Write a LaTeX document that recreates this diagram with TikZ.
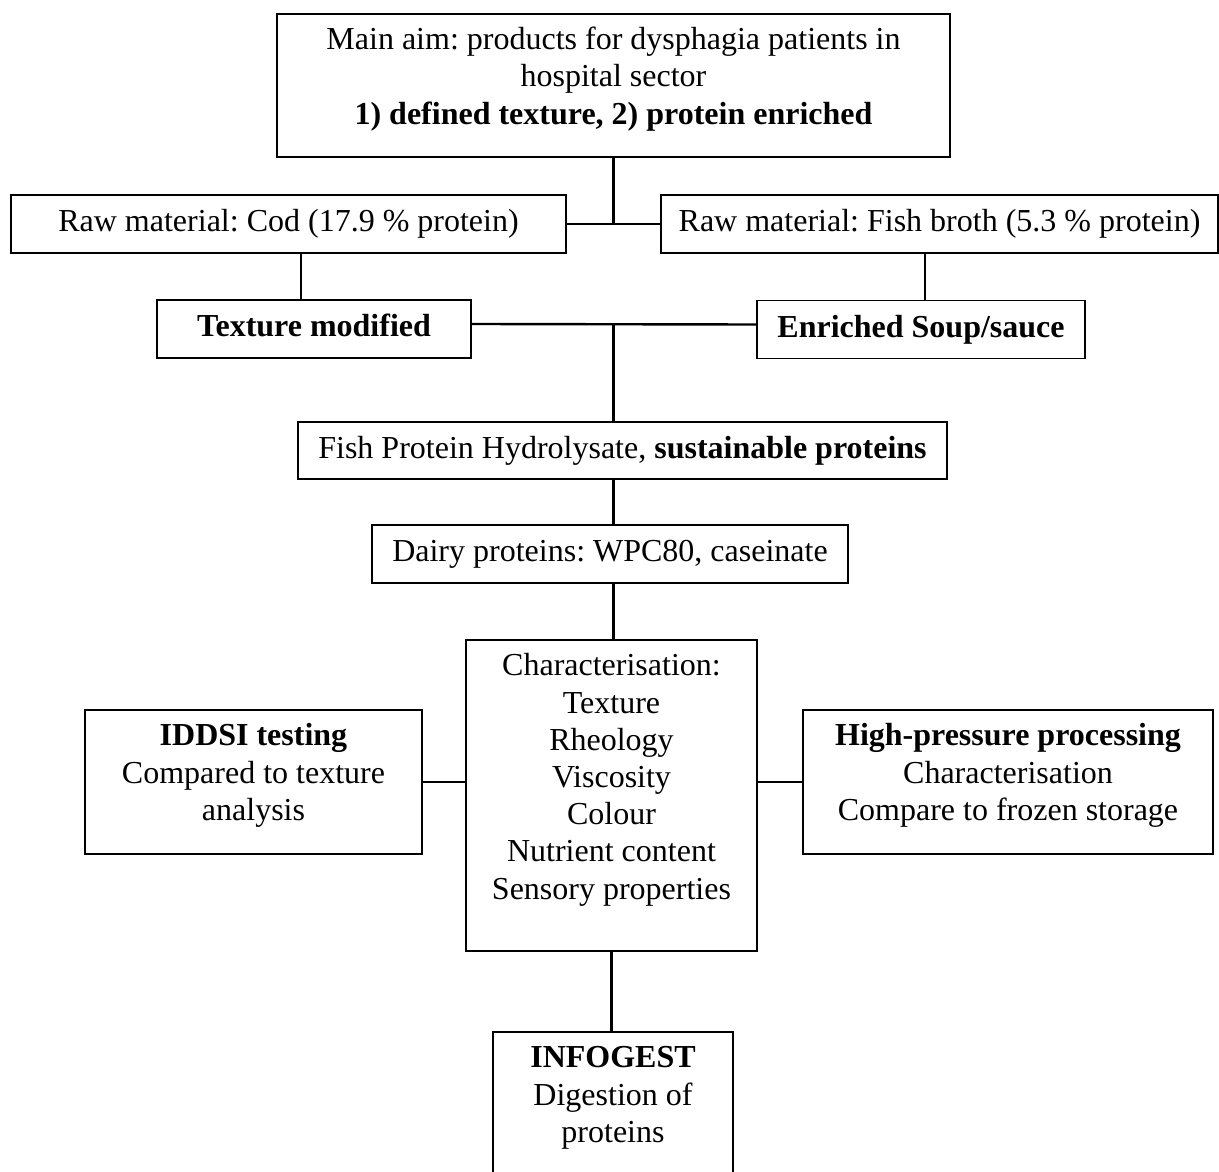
\documentclass[tikz,border=0pt]{standalone}
\usepackage{fontspec}
\setmainfont{Liberation Serif}
\frenchspacing

\begin{document}
\begin{tikzpicture}[
    x=0.5pt, y=-0.5pt,
    % Style for the plain boxes (one line, centred)
    box/.style={draw=black, line width=0.8pt, inner sep=0pt, minimum height=29pt,
                text height=11.2pt, text depth=3.6pt,
                font=\fontsize{16pt}{18.6pt}\selectfont},
    % Style for the taller boxes (text set from the top)
    tbox/.style={box, anchor=north, align=flush center, text height=18pt},
    % Style for the connecting lines
    link/.style={line width=1.2pt}
]

\useasboundingbox (0,0) rectangle (1219,1171);
\clip (0,0) rectangle (1219,1171);

% ==========================
% Aim and raw materials
% ==========================
\node[tbox, text width=336.5pt, text depth=53.5pt] (aim) at (613.5,13)
    {Main aim: products for dysphagia patients in\\ hospital sector\\
     \textbf{1) defined texture, 2) protein enriched}};

\node[box, minimum width=277.5pt] (cod) at (288.5,224) {Raw material: Cod (17.9 \% protein)};
\node[box, minimum width=278.5pt] (broth) at (939.5,224) {Raw material: Fish broth (5.3 \% protein)};

% ==========================
% Products
% ==========================
\node[box, minimum width=157pt] (texture) at (314,329) {\textbf{Texture modified}};
\node[box, minimum width=164pt] (enriched) at (921,329.5) {\textbf{Enriched Soup/sauce}};

% ==========================
% Proteins
% ==========================
\node[box, minimum width=324.5pt, minimum height=28.5pt] (fph) at (622.5,450.5)
    {Fish Protein Hydrolysate, \textbf{sustainable proteins}};
\node[box, minimum width=238pt] (dairy) at (610,554) {Dairy proteins: WPC80, caseinate};

% ==========================
% Analyses
% ==========================
\node[tbox, text width=145.5pt, text depth=137.5pt] (char) at (611.5,639)
    {Characterisation:\\ Texture\\ Rheology\\ Viscosity\\ Colour\\ Nutrient content\\ Sensory properties};
\node[tbox, text width=168.5pt, text depth=54pt] (iddsi) at (253.5,709)
    {\textbf{IDDSI testing}\\ Compared to texture\\ analysis};
\node[tbox, text width=205pt, text depth=54pt] (hpp) at (1008,709)
    {\textbf{High-pressure processing}\\ Characterisation\\ Compare to frozen storage};
\node[tbox, text width=120pt, text depth=72pt] (infogest) at (613,1031)
    {\textbf{INFOGEST}\\ Digestion of\\ proteins};

% ==========================
% Connectors
% ==========================
\draw[link] (aim.south) -- (aim.south |- cod.east);
\draw[link] (cod.east) -- (broth.west);

\coordinate (tj) at ([xshift=-6.5pt]texture.north);
\draw[link] (tj) -- (tj |- cod.south);
\coordinate (ej) at ([xshift=2pt]enriched.north);
\draw[link] (ej) -- (ej |- broth.south);

\coordinate (hl) at ([yshift=2.5pt]texture.east);
\coordinate (hr) at ([yshift=2.5pt]enriched.west);
\draw[link] (hl) -- (hr);
\draw[link] (hl -| aim.south) -- (aim.south |- fph.north);

\draw[link] (fph.south -| aim.south) -- (aim.south |- dairy.north);
\draw[link] (dairy.south -| aim.south) -- (aim.south |- char.north);
\draw[link] (char.south) -- (char.south |- infogest.north);

\draw[link] (iddsi.east) -- (iddsi.east -| char.west);
\draw[link] (hpp.west) -- (hpp.west -| char.east);

\end{tikzpicture}
\end{document}
